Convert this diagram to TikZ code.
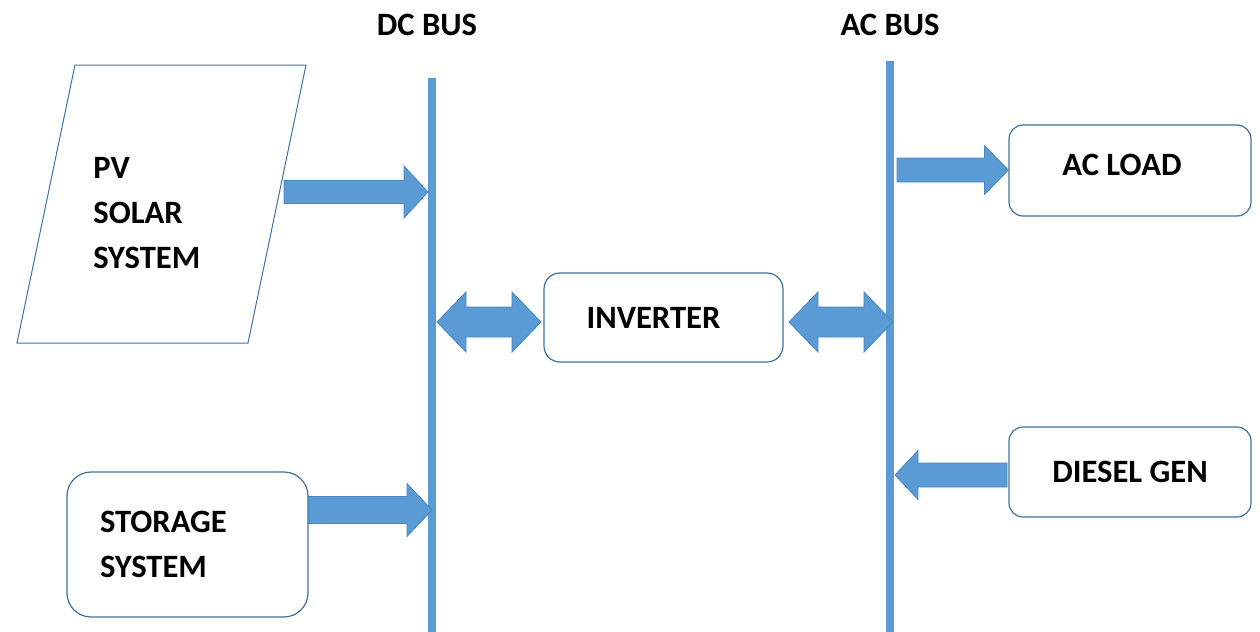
\documentclass[tikz,border=0pt]{standalone}
\usepackage{fontspec}
\setmainfont{Carlito}
\usetikzlibrary{calc}

\definecolor{busblue}{HTML}{5B9BD5}
\definecolor{arrowedge}{HTML}{4A86C0}
\definecolor{boxline}{HTML}{41719C}

% Block arrow from #1 to #2: shaft half-width #3, head half-width #4, head length #5
\newcommand\onewayarrow[5]{%
  \coordinate (hb) at ($(#2)!#5!(#1)$);
  \filldraw[blockarrow]
    ($(#1)!#3!90:(#2)$) -- ($(hb)!#3!90:(#2)$) -- ($(hb)!#4!90:(#2)$) -- (#2)
    -- ($(hb)!#4!-90:(#2)$) -- ($(hb)!#3!-90:(#2)$) -- ($(#1)!#3!-90:(#2)$) -- cycle;}

% Block arrow with heads at both ends
\newcommand\twowayarrow[5]{%
  \coordinate (hba) at ($(#1)!#5!(#2)$);
  \coordinate (hbb) at ($(#2)!#5!(#1)$);
  \filldraw[blockarrow]
    (#1) -- ($(hba)!#4!90:(#2)$) -- ($(hba)!#3!90:(#2)$) -- ($(hbb)!#3!90:(#2)$)
    -- ($(hbb)!#4!90:(#2)$) -- (#2) -- ($(hbb)!#4!-90:(#2)$) -- ($(hbb)!#3!-90:(#2)$)
    -- ($(hba)!#3!-90:(#2)$) -- ($(hba)!#4!-90:(#2)$) -- cycle;}

\tikzset{
  lbl/.style={font=\fontsize{16.3pt}{22.5pt}\selectfont\bfseries, text=black},
  roundbox/.style={lbl, draw=boxline, line width=0.6pt, rounded corners=8pt,
    fill=white, inner sep=0pt},
  bus/.style={draw=busblue, line width=4pt},
  blockarrow/.style={fill=busblue, draw=arrowedge, line width=0.4pt},
}

\begin{document}
\begin{tikzpicture}[x=0.5pt, y=-0.5pt]
\useasboundingbox (0,0) rectangle (1260,632);

% bus bars
\coordinate (dctop) at (432,78);
\coordinate (dcbot) at (432,632);
\coordinate (actop) at (890,61);
\coordinate (acbot) at (890,632);
\draw[bus] (dctop) -- (dcbot);
\draw[bus] (actop) -- (acbot);
\node[lbl, anchor=base] (dclabel) at (427,35) {DC BUS};
\node[lbl, anchor=base] (aclabel) at (890,35) {AC BUS};

% PV source (parallelogram)
\draw[draw=boxline, line width=0.5pt] (75,65) -- (306,65) -- (248,343) -- (17,343) -- cycle;
\node[lbl, align=left, anchor=north west, inner sep=0pt] (pv) at (93,157)
  {PV\\SOLAR\\SYSTEM};

% blocks
\node[roundbox, minimum width=120.5pt, minimum height=72.5pt, rounded corners=12pt,
  text width=87.5pt, inner xsep=16.5pt, align=left] (storage) at (187.5,544.5)
  {STORAGE\\SYSTEM};
\node[roundbox, minimum width=119.5pt, minimum height=44.5pt] (inv) at (663.5,317.5)
  {\kern-10pt INVERTER};
\node[roundbox, minimum width=121pt, minimum height=45.5pt, text depth=6pt,
  rounded corners=7pt] (acload) at (1130,170.5) {\kern-8pt AC LOAD};
\node[roundbox, minimum width=121pt, minimum height=45pt,
  rounded corners=7pt] (diesel) at (1130,472) {DIESEL GEN};

% arrow end points
\coordinate (pvout) at (284,192);
\coordinate (pvin) at ([xshift=-2pt]dctop |- pvout);
\coordinate (stout) at (storage.east |- 0,510);
\coordinate (stin) at (dctop |- stout);
\coordinate (invl1) at (437,322);
\coordinate (invl2) at (541,322);
\coordinate (invr1) at (789,322);
\coordinate (invr2) at (893,322);
\coordinate (loadout) at (897,170);
\coordinate (loadin) at (acload.west |- loadout);
\coordinate (genout) at (1007,475);
\coordinate (genin) at (895,475);

% power flow arrows
\onewayarrow{pvout}{pvin}{5.75pt}{13pt}{12pt}
\onewayarrow{stout}{stin}{6.75pt}{13.25pt}{12.5pt}
\twowayarrow{invl1}{invl2}{7.5pt}{15pt}{14.5pt}
\twowayarrow{invr1}{invr2}{7.5pt}{15pt}{14.5pt}
\onewayarrow{loadout}{loadin}{6pt}{12.25pt}{12pt}
\onewayarrow{genout}{genin}{6pt}{12.25pt}{11.5pt}
\end{tikzpicture}
\end{document}
